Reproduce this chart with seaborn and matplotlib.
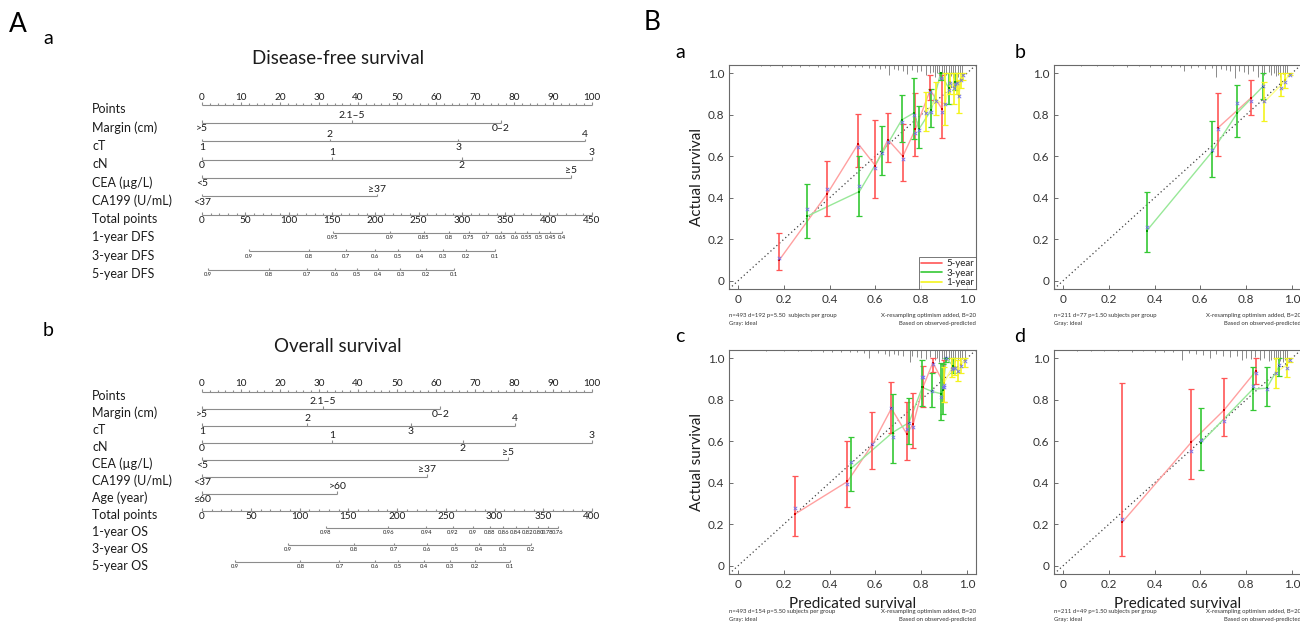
import matplotlib
matplotlib.use("Agg")
import matplotlib.pyplot as plt
from matplotlib.lines import Line2D
import numpy as np
import pandas as pd
import seaborn as sns

# ---------------- Nomogram A-a: disease-free survival ----------------
dfs_rows = ["Points", "Margin (cm)", "cT", "cN", "CEA (\u00b5g/L)", "CA199 (U/mL)",
            "Total points", "1-year DFS", "3-year DFS", "5-year DFS"]
dfs_margin_levels = [">5", "2.1\u20135", "0\u20132"]
dfs_margin_points = [0, 38.4, 76.7]
dfs_ct_levels = ["1", "2", "3", "4"]
dfs_ct_points = [0, 32.7, 65.7, 98.1]
dfs_cn_levels = ["0", "1", "2", "3"]
dfs_cn_points = [0, 33.4, 66.6, 100]
dfs_cea_levels = ["<5", "\u22655"]
dfs_cea_points = [0, 94.7]
dfs_ca199_levels = ["<37", "\u226537"]
dfs_ca199_points = [0, 44.8]
dfs_total_max = 450
dfs_1y_labels = ["0.95", "0.9", "0.85", "0.8", "0.75", "0.7", "0.65", "0.6", "0.55", "0.5", "0.45", "0.4"]
dfs_1y_total = [151, 217, 256, 285, 308, 328, 345, 361, 375, 389, 402, 415]
dfs_3y_labels = ["0.9", "0.8", "0.7", "0.6", "0.5", "0.4", "0.3", "0.2", "0.1"]
dfs_3y_total = [54, 123, 166, 200, 226, 251, 278, 305, 338]
dfs_5y_labels = ["0.9", "0.8", "0.7", "0.6", "0.5", "0.4", "0.3", "0.2", "0.1"]
dfs_5y_total = [7, 77, 121, 154, 179, 203, 229, 258, 291]

# ---------------- Nomogram A-b: overall survival ----------------
os_rows = ["Points", "Margin (cm)", "cT", "cN", "CEA (\u00b5g/L)", "CA199 (U/mL)", "Age (year)",
           "Total points", "1-year OS", "3-year OS", "5-year OS"]
os_margin_levels = [">5", "2.1\u20135", "0\u20132"]
os_margin_points = [0, 31.0, 61.1]
os_ct_levels = ["1", "2", "3", "4"]
os_ct_points = [0, 27.0, 53.6, 80.2]
os_cn_levels = ["0", "1", "2", "3"]
os_cn_points = [0, 33.4, 66.8, 100]
os_cea_levels = ["<5", "\u22655"]
os_cea_points = [0, 78.5]
os_ca199_levels = ["<37", "\u226537"]
os_ca199_points = [0, 57.6]
os_age_levels = ["\u226460", ">60"]
os_age_points = [0, 34.7]
os_total_max = 400
os_1y_labels = ["0.98", "0.96", "0.94", "0.92", "0.9", "0.88", "0.86", "0.84", "0.82", "0.80", "0.78", "0.76"]
os_1y_total = [127, 191, 230, 257, 278, 295, 309, 322, 334, 345, 355, 365]
os_3y_labels = ["0.9", "0.8", "0.7", "0.6", "0.5", "0.4", "0.3", "0.2"]
os_3y_total = [88, 156, 197, 231, 259, 284, 309, 337]
os_5y_labels = ["0.9", "0.8", "0.7", "0.6", "0.5", "0.4", "0.3", "0.2", "0.1"]
os_5y_total = [34, 101, 141, 177, 201, 228, 254, 280, 316]

# ---------------- Calibration curves (B) ----------------
# Each series: predicted survival, observed survival, 95% CI, bias-corrected estimate
cal_a_5y = dict(pred=[0.18, 0.39, 0.525, 0.60, 0.655, 0.72, 0.775, 0.84, 0.89],
                obs=[0.10, 0.42, 0.66, 0.555, 0.68, 0.60, 0.73, 0.92, 0.83],
                lo=[0.05, 0.31, 0.55, 0.40, 0.57, 0.48, 0.60, 0.87, 0.69],
                hi=[0.23, 0.575, 0.805, 0.775, 0.81, 0.755, 0.905, 0.99, 0.99],
                corr=[0.11, 0.44, 0.645, 0.545, 0.67, 0.585, 0.71, 0.91, 0.815])
cal_a_3y = dict(pred=[0.30, 0.53, 0.63, 0.715, 0.77, 0.79, 0.845, 0.885, 0.92, 0.95],
                obs=[0.31, 0.43, 0.615, 0.775, 0.81, 0.73, 0.825, 1.00, 0.93, 0.96],
                lo=[0.205, 0.31, 0.51, 0.67, 0.685, 0.64, 0.74, 0.97, 0.85, 0.92],
                hi=[0.465, 0.60, 0.745, 0.895, 0.975, 0.84, 0.925, 1.00, 1.00, 1.00],
                corr=[0.345, 0.455, 0.615, 0.765, 0.80, 0.725, 0.815, 0.975, 0.92, 0.95])
cal_a_1y = dict(pred=[0.82, 0.865, 0.905, 0.925, 0.945, 0.955, 0.965, 0.975, 0.985],
                obs=[0.81, 0.87, 0.85, 0.96, 0.935, 0.96, 0.89, 0.97, 0.99],
                lo=[0.72, 0.80, 0.75, 0.90, 0.85, 0.90, 0.81, 0.93, 0.97],
                hi=[0.91, 0.96, 1.00, 1.00, 1.00, 1.00, 0.97, 1.00, 1.00],
                corr=[0.81, 0.865, 0.85, 0.955, 0.93, 0.955, 0.89, 0.97, 0.99])

cal_b_5y = dict(pred=[0.675, 0.82], obs=[0.735, 0.88], lo=[0.60, 0.80],
                hi=[0.905, 0.97], corr=[0.73, 0.865])
cal_b_3y = dict(pred=[0.365, 0.65, 0.762, 0.872], obs=[0.24, 0.62, 0.81, 0.935],
                lo=[0.14, 0.50, 0.695, 0.875], hi=[0.43, 0.77, 0.945, 1.00],
                corr=[0.26, 0.63, 0.855, 0.94])
cal_b_1y = dict(pred=[0.878, 0.954, 0.972, 0.99], obs=[0.86, 0.945, 0.97, 0.995],
                lo=[0.77, 0.89, 0.93, 0.99], hi=[0.96, 1.0, 1.0, 1.0],
                corr=[0.865, 0.93, 0.96, 0.99])

cal_c_5y = dict(pred=[0.25, 0.478, 0.586, 0.67, 0.737, 0.766, 0.808, 0.851, 0.899],
                obs=[0.25, 0.406, 0.583, 0.758, 0.636, 0.684, 0.86, 0.979, 0.88],
                lo=[0.144, 0.283, 0.467, 0.642, 0.51, 0.567, 0.767, 0.936, 0.79],
                hi=[0.433, 0.599, 0.74, 0.888, 0.791, 0.831, 0.963, 1.0, 0.99],
                corr=[0.278, 0.395, 0.587, 0.76, 0.658, 0.668, 0.909, 0.973, 0.86])
cal_c_3y = dict(pred=[0.495, 0.675, 0.747, 0.805, 0.848, 0.885, 0.895, 0.91, 0.94],
                obs=[0.47, 0.642, 0.69, 0.86, 0.84, 0.83, 0.847, 1.0, 0.963],
                lo=[0.358, 0.494, 0.587, 0.77, 0.764, 0.703, 0.732, 0.98, 0.928],
                hi=[0.62, 0.828, 0.807, 0.99, 0.928, 0.975, 0.973, 1.0, 1.0],
                corr=[0.498, 0.62, 0.687, 0.912, 0.843, 0.815, 0.86, 1.0, 0.955])
cal_c_1y = dict(pred=[0.90, 0.935, 0.95, 0.962, 0.975, 0.99],
                obs=[0.88, 0.955, 0.96, 0.935, 0.97, 0.99],
                lo=[0.79, 0.91, 0.92, 0.89, 0.93, 0.96],
                hi=[0.96, 1.0, 1.0, 0.99, 1.0, 1.0],
                corr=[0.87, 0.95, 0.955, 0.94, 0.965, 0.985])

cal_d_5y = dict(pred=[0.258, 0.561, 0.704, 0.843], obs=[0.209, 0.596, 0.751, 0.939],
                lo=[0.048, 0.417, 0.623, 0.875], hi=[0.88, 0.852, 0.907, 1.0],
                corr=[0.225, 0.555, 0.698, 0.928])
cal_d_3y = dict(pred=[0.603, 0.829, 0.89, 0.945], obs=[0.594, 0.851, 0.856, 0.963],
                lo=[0.462, 0.751, 0.77, 0.915], hi=[0.762, 0.96, 0.96, 1.0],
                corr=[0.604, 0.867, 0.85, 0.968])
cal_d_1y = dict(pred=[0.93, 0.978, 0.993], obs=[0.931, 0.968, 0.995],
                lo=[0.856, 0.91, 0.98], hi=[1.0, 1.0, 1.0],
                corr=[0.928, 0.952, 0.99])

# Distribution of predicted survival (spikes hanging from the top frame)
rug_a_pos = [0.10, 0.14, 0.19, 0.23, 0.27, 0.31, 0.35, 0.38, 0.42, 0.45, 0.48, 0.51, 0.54, 0.57,
             0.60, 0.62, 0.64, 0.66, 0.68, 0.70, 0.72, 0.74, 0.76, 0.78, 0.80, 0.82, 0.84, 0.85,
             0.86, 0.87, 0.88, 0.89, 0.90, 0.91, 0.92, 0.93, 0.94, 0.95, 0.96, 0.97, 0.98]
rug_a_len = [0.005, 0.005, 0.008, 0.005, 0.008, 0.005, 0.01, 0.008, 0.01, 0.008, 0.012, 0.01, 0.012,
             0.015, 0.015, 0.02, 0.015, 0.05, 0.02, 0.025, 0.03, 0.045, 0.025, 0.035, 0.03, 0.05,
             0.04, 0.035, 0.06, 0.04, 0.055, 0.045, 0.06, 0.05, 0.06, 0.055, 0.065, 0.05, 0.06,
             0.045, 0.04]
rug_b_pos = [0.08, 0.15, 0.22, 0.28, 0.33, 0.38, 0.43, 0.47, 0.51, 0.53, 0.56, 0.59, 0.62, 0.65,
             0.67, 0.69, 0.71, 0.73, 0.75, 0.77, 0.79, 0.81, 0.83, 0.85, 0.87, 0.88, 0.90, 0.91,
             0.92, 0.93, 0.94, 0.95, 0.96, 0.97, 0.98]
rug_b_len = [0.005, 0.006, 0.005, 0.008, 0.006, 0.01, 0.008, 0.012, 0.01, 0.03, 0.015, 0.012, 0.02,
             0.015, 0.06, 0.02, 0.025, 0.03, 0.065, 0.03, 0.035, 0.045, 0.03, 0.06, 0.04, 0.05,
             0.035, 0.05, 0.04, 0.055, 0.05, 0.06, 0.045, 0.05, 0.04]
rug_c_pos = [0.12, 0.20, 0.26, 0.32, 0.37, 0.41, 0.45, 0.49, 0.52, 0.55, 0.57, 0.61, 0.64, 0.66,
             0.68, 0.70, 0.72, 0.75, 0.76, 0.78, 0.80, 0.82, 0.84, 0.86, 0.87, 0.88, 0.89, 0.90,
             0.91, 0.92, 0.93, 0.94, 0.95, 0.96, 0.97, 0.98, 0.99]
rug_c_len = [0.005, 0.005, 0.006, 0.005, 0.008, 0.008, 0.01, 0.01, 0.012, 0.015, 0.04, 0.015, 0.02,
             0.03, 0.02, 0.025, 0.03, 0.06, 0.03, 0.035, 0.04, 0.045, 0.035, 0.05, 0.04, 0.06,
             0.045, 0.05, 0.055, 0.05, 0.06, 0.055, 0.06, 0.05, 0.055, 0.045, 0.04]
rug_d_pos = [0.06, 0.12, 0.18, 0.24, 0.30, 0.35, 0.40, 0.44, 0.48, 0.52, 0.55, 0.58, 0.61, 0.64,
             0.67, 0.70, 0.73, 0.76, 0.78, 0.80, 0.82, 0.84, 0.86, 0.88, 0.90, 0.91, 0.92, 0.93,
             0.94, 0.95, 0.96, 0.97, 0.98]
rug_d_len = [0.005, 0.005, 0.006, 0.005, 0.008, 0.006, 0.01, 0.008, 0.012, 0.05, 0.015, 0.02,
             0.025, 0.04, 0.02, 0.03, 0.035, 0.03, 0.05, 0.04, 0.045, 0.035, 0.05, 0.04, 0.055,
             0.05, 0.045, 0.06, 0.05, 0.055, 0.06, 0.05, 0.045]

horizon_names = ["5-year", "3-year", "1-year"]
bar_colors = ["#ff5656", "#35c835", "#f4f41e"]
line_colors = ["#ffa0a0", "#98e898", "#ffff88"]
dot_colors = ["#d40000", "#009a00", "#d8d800"]
corr_color = "#7070f0"

# ---------------- drawing ----------------
sns.set_theme(style="white")
plt.rcParams["font.family"] = ["Lato", "DejaVu Sans"]

W, H = 1300, 623
fig = plt.figure(figsize=(W / 100, H / 100), dpi=100, facecolor="white")
INK = "#1c1c1c"
RULE = "#8c8c8c"


def fig_box(x0, y0, x1, y1):
    return [x0 / W, 1 - y1 / H, (x1 - x0) / W, (y1 - y0) / H]


def fig_xy(x, y):
    return x / W, 1 - y / H


def draw_nomogram(title, title_y, rows, predictors, total_max, prob_scales, first_row_y, row_dy):
    n = len(rows)
    top = first_row_y - 4.5
    bottom = top + row_dy * (n - 1)
    ax = fig.add_axes(fig_box(202, top, 592, bottom))
    ax.set_xlim(0, 100)
    ax.set_ylim(n - 1, 0)
    ax.axis("off")
    u = (n - 1) / (bottom - top)
    kw = dict(colors=RULE, lw=0.8, clip_on=False)
    fig.text(*fig_xy(338, title_y), title, ha="center", va="center", fontsize=13.5, color=INK)
    for i, name in enumerate(rows):
        ax.text(-28.2, i + 4.5 * u, name, ha="left", va="center", fontsize=9, color=INK)

    # points scale
    major = np.arange(0, 101, 10)
    minor = np.setdiff1d(np.arange(0, 101, 2), major)
    ax.hlines(0, 0, 100, **kw)
    ax.vlines(major, 0, -2.5 * u, **kw)
    ax.vlines(minor, 0, -1.2 * u, **kw)
    for v in major:
        ax.text(v, -3 * u, f"{v}", ha="center", va="bottom", fontsize=7.2, color=INK)

    # predictor scales, labels alternating below / above
    for k, (levels, pts) in enumerate(predictors, start=1):
        ax.hlines(k, 0, max(pts), **kw)
        ax.vlines(pts, k, k - 2.5 * u, **kw)
        for j, (lab, p) in enumerate(zip(levels, pts)):
            if j % 2 == 0:
                ax.text(p, k + 1.5 * u, lab, ha="center", va="top", fontsize=7.5, color=INK)
            else:
                ax.text(p, k - 2.5 * u, lab, ha="center", va="bottom", fontsize=7.5, color=INK)

    # total points scale
    t = len(predictors) + 1
    to_pts = 100 / total_max
    tmaj = np.arange(0, total_max + 1, 50)
    tmin = np.setdiff1d(np.arange(0, total_max + 1, 10), tmaj)
    ax.hlines(t, 0, 100, **kw)
    ax.vlines(tmaj * to_pts, t, t - 2.5 * u, **kw)
    ax.vlines(tmin * to_pts, t, t - 1.2 * u, **kw)
    for v in tmaj:
        ax.text(v * to_pts, t + 1.5 * u, f"{v}", ha="center", va="top", fontsize=7.2, color=INK)

    # survival probability scales
    for k, (labels, totals) in enumerate(prob_scales, start=t + 1):
        xs = np.asarray(totals, dtype=float) * to_pts
        ax.hlines(k, xs.min(), xs.max(), **kw)
        ax.vlines(xs, k, k - 2 * u, **kw)
        for lab, x in zip(labels, xs):
            ax.text(x, k + 2.5 * u, lab, ha="center", va="top", fontsize=4.2, color=INK)


def draw_calibration(box, series, rug_pos, rug_len, ylabel, xlabel, notes_left, notes_right,
                     notes_y, legend=False):
    ax = fig.add_axes(fig_box(*box))
    ax.set_facecolor("white")
    ax.set_xlim(-0.04, 1.04)
    ax.set_ylim(-0.04, 1.04)
    ax.axline((0, 0), (1, 1), color="#404040", lw=0.9, ls=(0, (1, 2.2)), zorder=1)
    ax.vlines(rug_pos, 1.04 - np.asarray(rug_len), 1.04, colors="#8a8a8a", lw=0.7, zorder=2)
    for s, lc, bc, dc in zip(series, line_colors, bar_colors, dot_colors):
        df = pd.DataFrame(s)
        sns.lineplot(data=df, x="pred", y="obs", ax=ax, color=lc, lw=1.0, legend=False,
                     errorbar=None, zorder=3)
        ax.errorbar(df["pred"], df["obs"], yerr=[df["obs"] - df["lo"], df["hi"] - df["obs"]],
                    fmt="none", ecolor=bc, elinewidth=1.2, capsize=2, capthick=0.9, zorder=4)
        sns.scatterplot(data=df, x="pred", y="obs", ax=ax, color=dc, marker="s", s=3,
                        linewidth=0, legend=False, zorder=5)
        sns.scatterplot(data=df, x="pred", y="corr", ax=ax, color=corr_color, marker="x", s=6,
                        linewidth=0.6, legend=False, zorder=6)
    ticks = [0, 0.2, 0.4, 0.6, 0.8, 1.0]
    tick_text = ["0", "0.2", "0.4", "0.6", "0.8", "1.0"]
    ax.set_xticks(ticks, tick_text)
    ax.set_yticks(ticks, tick_text)
    ax.tick_params(bottom=True, left=True, direction="in", length=3, width=0.6, color="#555555",
                   labelsize=8.5, pad=3.5, labelcolor="#333333")
    for sp in ax.spines.values():
        sp.set_visible(True)
        sp.set_color("#6a6a6a")
        sp.set_linewidth(0.8)
    ax.set_xlabel("")
    ax.set_ylabel("")
    if ylabel:
        ax.text(-0.13, 0.5, "Actual survival", transform=ax.transAxes, rotation=90,
                ha="center", va="center", fontsize=11, color=INK)
    if xlabel:
        ax.text(0.5, -0.135, "Predicated survival", transform=ax.transAxes,
                ha="center", va="center", fontsize=11, color=INK)
    x0, _, x1, _ = box
    for line, yy in zip(notes_left, notes_y):
        fig.text(*fig_xy(x0, yy), line, ha="left", va="center", fontsize=4.3, color="#333333")
    for line, yy in zip(notes_right, notes_y):
        fig.text(*fig_xy(x1, yy), line, ha="right", va="center", fontsize=4.3, color="#333333")
    if legend:
        handles = [Line2D([], [], color=c, lw=1.2) for c in bar_colors]
        leg = ax.legend(handles, horizon_names, loc="lower right", borderaxespad=0, fontsize=7,
                        frameon=True, fancybox=False, edgecolor="#555555", handlelength=2.2,
                        borderpad=0.2, labelspacing=0.05, handletextpad=0.4)
        leg.get_frame().set_linewidth(0.7)
    return ax


# Panel A: nomograms
draw_nomogram("Disease-free survival", 59, dfs_rows,
              [(dfs_margin_levels, dfs_margin_points), (dfs_ct_levels, dfs_ct_points),
               (dfs_cn_levels, dfs_cn_points), (dfs_cea_levels, dfs_cea_points),
               (dfs_ca199_levels, dfs_ca199_points)],
              dfs_total_max,
              [(dfs_1y_labels, dfs_1y_total), (dfs_3y_labels, dfs_3y_total),
               (dfs_5y_labels, dfs_5y_total)],
              109, 18.35)
draw_nomogram("Overall survival", 347, os_rows,
              [(os_margin_levels, os_margin_points), (os_ct_levels, os_ct_points),
               (os_cn_levels, os_cn_points), (os_cea_levels, os_cea_points),
               (os_ca199_levels, os_ca199_points), (os_age_levels, os_age_points)],
              os_total_max,
              [(os_1y_labels, os_1y_total), (os_3y_labels, os_3y_total),
               (os_5y_labels, os_5y_total)],
              396, 17.0)

# Panel B: calibration curves
right_notes = ["X-resampling optimism added, B=20", "Based on observed-predicted"]
draw_calibration((729, 65, 976, 289), [cal_a_5y, cal_a_3y, cal_a_1y], rug_a_pos, rug_a_len,
                 True, False, ["n=493 d=192 p=5.50  subjects per group", "Gray: ideal"],
                 right_notes, [316, 323], legend=True)
draw_calibration((1054, 65, 1301, 289), [cal_b_5y, cal_b_3y, cal_b_1y], rug_b_pos, rug_b_len,
                 False, False, ["n=211 d=77 p=1.50 subjects per group", "Gray: ideal"],
                 right_notes, [316, 323])
draw_calibration((729, 350, 976, 574), [cal_c_5y, cal_c_3y, cal_c_1y], rug_c_pos, rug_c_len,
                 True, True, ["n=493 d=154 p=5.50 subjects per group", "Gray: ideal"],
                 right_notes, [612, 619])
draw_calibration((1054, 350, 1301, 574), [cal_d_5y, cal_d_3y, cal_d_1y], rug_d_pos, rug_d_len,
                 False, True, ["n=211 d=49 p=1.50 subjects per group", "Gray: ideal"],
                 right_notes, [612, 619])

# Panel letters
for txt, x, y, size in [("A", 18, 24, 19), ("a", 48, 38, 14), ("b", 48, 331, 14),
                        ("B", 652, 22, 19), ("a", 680, 53, 14), ("b", 1020, 52, 14),
                        ("c", 680, 336, 14), ("d", 1020, 336, 14)]:
    fig.text(*fig_xy(x, y), txt, ha="center", va="center", fontsize=size, color="black")

fig.savefig("out.png", dpi=100, facecolor="white")
